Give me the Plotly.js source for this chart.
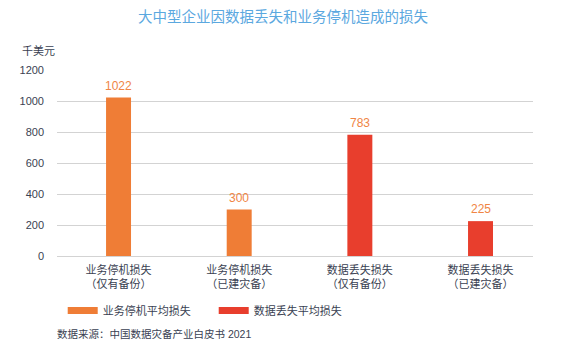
<!DOCTYPE html>
<html>
<head>
<meta charset="utf-8">
<script src="https://cdn.plot.ly/plotly-3.0.1.min.js"></script>
<style>html,body{margin:0;padding:0;background:#fff;}#chart{width:579px;height:348px;}</style>
</head>
<body>
<div id="chart"></div>
<script>
// ---- data ----
const categories = ["业务停机损失<br>（仅有备份）", "业务停机损失<br>（已建灾备）", "数据丢失损失<br>（仅有备份）", "数据丢失损失<br>（已建灾备）"];
const downtimeCats = [0, 1];
const downtimeValues = [1022, 300];
const dataLossCats = [2, 3];
const dataLossValues = [783, 225];
const seriesNames = ["业务停机平均损失", "数据丢失平均损失"];
const yTicks = [0, 200, 400, 600, 800, 1000, 1200];
const titleText = "大中型企业因数据丢失和业务停机造成的损失";
const unitText = "千美元";
const sourceText = "数据来源：中国数据灾备产业白皮书 2021";

const ORANGE = "#EF7D36";
const RED = "#E83E2D";
const LABEL = "#F08545";
const FONT = "Liberation Sans, Noto Sans CJK SC, sans-serif";
const TXT = "#3a3f52";

const traces = [
  {type: "bar", x: downtimeCats, y: downtimeValues, width: 0.207, marker: {color: ORANGE},
   showlegend: false, hoverinfo: "skip"},
  {type: "bar", x: dataLossCats, y: dataLossValues, width: 0.207, marker: {color: RED},
   showlegend: false, hoverinfo: "skip"},
  {type: "scatter", mode: "lines", x: [null], y: [null], name: seriesNames[0], line: {color: ORANGE, width: 7}},
  {type: "scatter", mode: "lines", x: [null], y: [null], name: seriesNames[1], line: {color: RED, width: 7}}
];

const valueLabels = downtimeCats.concat(dataLossCats).map((c, i) => {
  const v = downtimeValues.concat(dataLossValues)[i];
  return {text: String(v), x: c, y: v, xref: "x", yref: "y", xanchor: "center", yanchor: "middle",
          yshift: 12, showarrow: false, font: {size: 12, color: LABEL, family: FONT}};
});

const layout = {
  width: 579, height: 348,
  margin: {l: 57, r: 46, t: 70, b: 92},
  paper_bgcolor: "#fff", plot_bgcolor: "#fff",
  barmode: "overlay",
  font: {family: FONT, color: TXT, size: 11},
  title: {text: titleText, x: 283/579, xref: "container", xanchor: "center", y: 1 - 17/348, yanchor: "middle",
          font: {size: 14.5, color: "#5BA8DF", family: "Noto Sans CJK SC, sans-serif"}},
  xaxis: {range: [-0.51, 3.435], tickvals: [0, 1, 2, 3], ticktext: categories, showgrid: false, zeroline: false,
          showline: false, ticks: "", ticklabelstandoff: 6, tickfont: {size: 11, color: TXT}, fixedrange: true},
  yaxis: {range: [0, 1200], tickvals: yTicks, ticktext: yTicks.map(String), showgrid: true, gridcolor: "#d3d3d3",
          gridwidth: 1, zeroline: true, zerolinecolor: "#d3d3d3", zerolinewidth: 1, showline: false, ticks: "",
          ticklabelstandoff: 12, tickfont: {size: 11, color: TXT}, fixedrange: true},
  showlegend: true,
  legend: {orientation: "h", x: 0.012, xanchor: "left", y: (256.3-311)/186.3, yanchor: "middle", font: {size: 11, color: TXT},
           entrywidth: 106, entrywidthmode: "pixels", itemwidth: 30, bgcolor: "rgba(0,0,0,0)", tracegroupgap: 0},
  annotations: valueLabels.concat([
    {text: unitText, xref: "paper", yref: "paper", x: -37/476, y: (256.3-51)/186.3, xanchor: "left", yanchor: "middle",
     showarrow: false, font: {size: 11, color: TXT}},
    {text: sourceText, xref: "paper", yref: "paper", x: -2/476, y: (256.3-334)/186.3, xanchor: "left", yanchor: "middle",
     showarrow: false, font: {size: 10.5, color: TXT}}
  ])
};

Plotly.newPlot("chart", traces, layout, {staticPlot: true, displayModeBar: false});
</script>
</body>
</html>
